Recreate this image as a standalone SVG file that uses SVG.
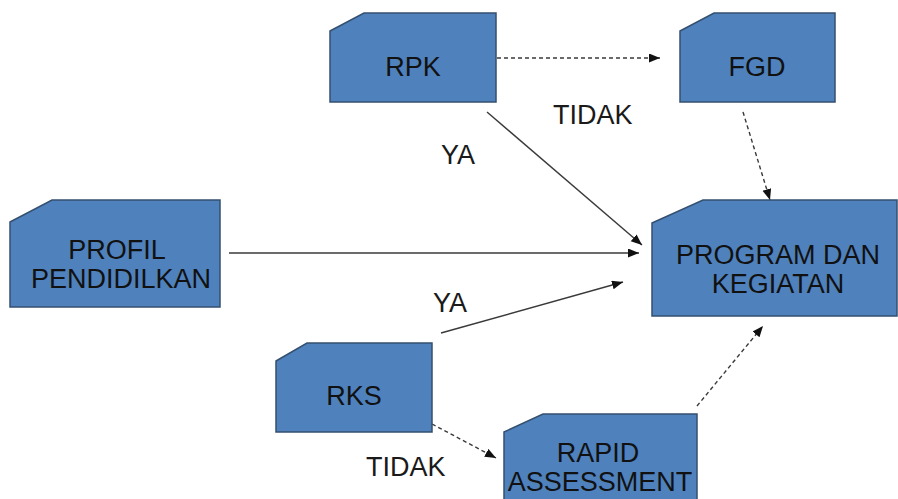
<svg xmlns="http://www.w3.org/2000/svg" width="898" height="499" viewBox="0 0 898 499">
<defs>
<style>
.box{fill:#4F81BD;stroke:#34506f;stroke-width:1.5}
.t{font-family:"Liberation Sans",Arial,sans-serif;font-size:27px;fill:#111;text-anchor:middle}
.lbl{font-family:"Liberation Sans",Arial,sans-serif;font-size:27px;fill:#1a1a1a}
.c{fill:none;stroke:#3a3a3a;stroke-width:1.4;marker-end:url(#ah)}
.d{stroke-dasharray:4,3}
</style>
<marker id="ah" markerUnits="userSpaceOnUse" markerWidth="12" markerHeight="10" refX="11" refY="4.5" orient="auto">
<path d="M0,0 L11,4.5 L0,9 Z" fill="#111"/>
</marker>
</defs>
<rect width="898" height="499" fill="#fff"/>
<g id="connectors">
<path class="c d" d="M497,58 L660,58"/>
<path class="c d" d="M743,112 L770,200"/>
<path class="c" d="M487,112 L642,245"/>
<path class="c" d="M229,253 L639,253"/>
<path class="c" d="M441,333 L623,282"/>
<path class="c d" d="M432,424 L496,458"/>
<path class="c d" d="M697,406 L763,326"/>
</g>
<g id="labels">
<text class="lbl" x="553" y="124">TIDAK</text>
<text class="lbl" x="441" y="164">YA</text>
<text class="lbl" x="433" y="312">YA</text>
<text class="lbl" x="366" y="476">TIDAK</text>
</g>
<g id="rpk">
<path class="box" d="M330,31 L364,13 L496,13 L496,102 L330,102 Z"/>
<text class="t" x="413" y="76">RPK</text>
</g>
<g id="fgd">
<path class="box" d="M680,31 L714,13 L835,13 L835,102 L680,102 Z"/>
<text class="t" x="757" y="76">FGD</text>
</g>
<g id="profil">
<path class="box" d="M10,222 L52,200 L220,200 L220,307 L10,307 Z"/>
<text class="t" x="117" y="259">PROFIL</text>
<text class="t" x="121" y="288">PENDIDILKAN</text>
</g>
<g id="program">
<path class="box" d="M652,223 L703,200 L897,200 L897,316 L652,316 Z"/>
<text class="t" x="778" y="264">PROGRAM DAN</text>
<text class="t" x="778" y="293">KEGIATAN</text>
</g>
<g id="rks">
<path class="box" d="M276,361 L307,343 L432,343 L432,432 L276,432 Z"/>
<text class="t" x="354" y="405">RKS</text>
</g>
<g id="rapid">
<path class="box" d="M504,432 L543,414 L697,414 L697,505 L504,505 Z"/>
<text class="t" x="598" y="462">RAPID</text>
<text class="t" x="600" y="491">ASSESSMENT</text>
</g>
</svg>
